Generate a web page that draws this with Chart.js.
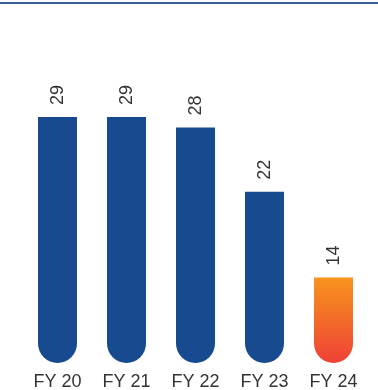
<!DOCTYPE html>
<html>
<head>
<meta charset="utf-8">
<script src="https://cdn.jsdelivr.net/npm/chart.js@4"></script>
<style>
  body { margin: 0; background: #fff; }
  .wrapper { position: relative; width: 378px; height: 390px; overflow: hidden; }
  .rule { position: absolute; left: 0; top: 2px; width: 378px; height: 2px; background: #3d5f96; }
  canvas { position: absolute; left: 0; top: 0; }
</style>
</head>
<body>
<div class="wrapper">
  <div class="rule"></div>
  <canvas id="myChart" width="378" height="390"></canvas>
</div>
<script>
const years = ['FY 20', 'FY 21', 'FY 22', 'FY 23', 'FY 24'];
const values = [29, 29, 28, 22, 14];
const highlight = 'FY 24';

// the value axis does not start at zero in the original
const axisFloor = 6;
const axisTop = 36;

const blue = '#184a90';

// bars: flat top, round bottom; the last year gets an orange-to-red fade
const barColor = (ctx) => {
  if (years[ctx.dataIndex] !== highlight) return blue;
  const chart = ctx.chart;
  const area = chart.chartArea;
  if (!area) return '#f7941d';
  const top = chart.scales.y.getPixelForValue(values[ctx.dataIndex]);
  const g = chart.ctx.createLinearGradient(0, top, 0, area.bottom);
  g.addColorStop(0, '#f7941d');
  g.addColorStop(1, '#ef4136');
  return g;
};

// rotated value labels sitting above each bar
const valueLabels = {
  id: 'valueLabels',
  afterDatasetsDraw(chart) {
    const ctx = chart.ctx;
    const meta = chart.getDatasetMeta(0);
    ctx.save();
    ctx.fillStyle = '#333';
    ctx.font = '18px "Liberation Sans"';
    ctx.textAlign = 'left';
    ctx.textBaseline = 'middle';
    meta.data.forEach((bar, i) => {
      ctx.save();
      ctx.translate(bar.x + 1, bar.y - 12);
      ctx.rotate(-Math.PI / 2);
      ctx.fillText(String(values[i]), 0, 0);
      ctx.restore();
    });
    ctx.restore();
  }
};

const data = {
  labels: years,
  datasets: [{
    data: values,
    base: axisFloor,
    backgroundColor: barColor,
    borderWidth: 0,
    borderSkipped: false,
    borderRadius: { topLeft: 0, topRight: 0, bottomLeft: 20, bottomRight: 20 },
    barPercentage: 0.565,
    categoryPercentage: 1
  }]
};

const config = {
  type: 'bar',
  data,
  options: {
    responsive: false,
    animation: false,
    layout: { padding: { left: 23, right: 10, top: 42, bottom: 0 } },
    plugins: {
      legend: { display: false },
      tooltip: { enabled: false }
    },
    scales: {
      x: {
        grid: { display: false, drawTicks: false },
        border: { display: false },
        ticks: {
          color: '#333',
          padding: 8,
          font: { family: 'Liberation Sans', size: 18 }
        },
        afterFit: (scale) => { scale.height = 27; }
      },
      y: {
        display: false,
        min: axisFloor,
        max: axisTop
      }
    }
  },
  plugins: [valueLabels]
};

const myChart = new Chart(document.getElementById('myChart'), config);
</script>
</body>
</html>
